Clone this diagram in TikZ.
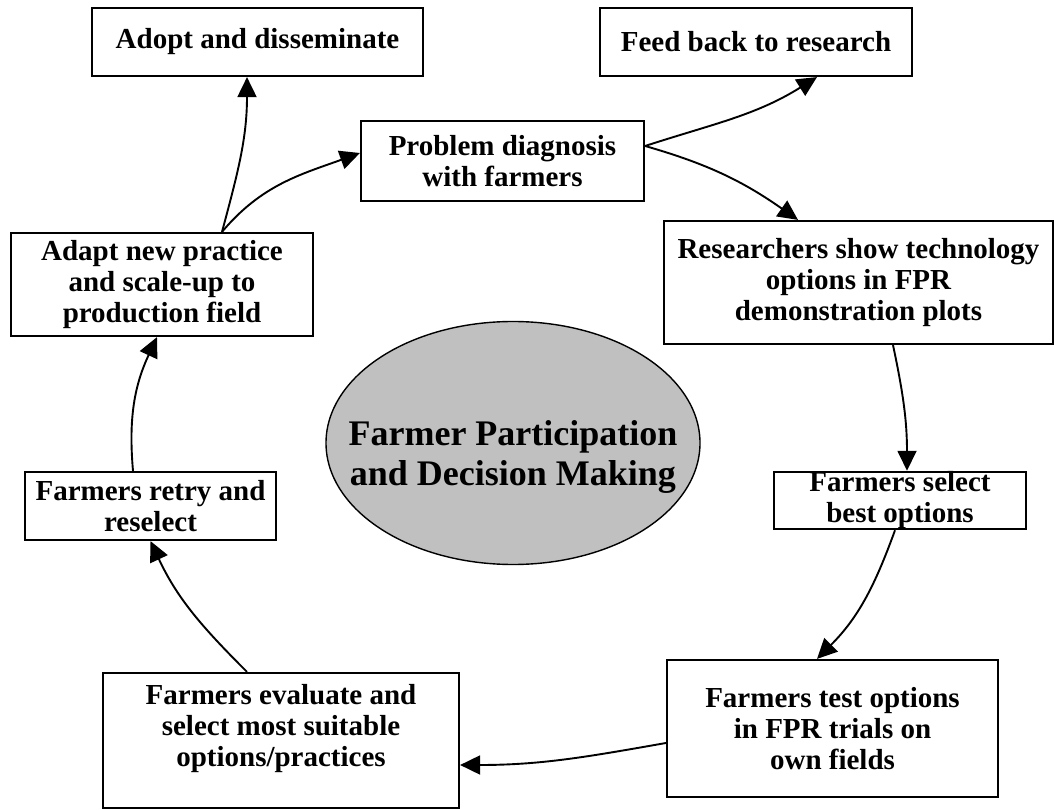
\documentclass[tikz,border=0pt]{standalone}
\usepackage{fontspec}
\setmainfont{Liberation Serif}
\usetikzlibrary{arrows.meta,shapes.geometric}
\definecolor{hubgray}{HTML}{C0C0C0}
\begin{document}
\begin{tikzpicture}[x=1pt,y=1pt,
  box/.style={draw, line width=2.2pt, rectangle, inner sep=0pt, align=center,
    font=\bfseries\fontsize{29}{31}\selectfont},
  hub/.style={draw, line width=1.4pt, ellipse, fill=hubgray, inner sep=0pt,
    minimum width=374pt, minimum height=243pt},
  hubtext/.style={align=center, inner sep=0pt, font=\bfseries\fontsize{36}{40}\selectfont},
  link/.style={line width=1.9pt, -{Triangle[length=20pt,width=19pt]}},
]
\useasboundingbox (0,0) rectangle (1054,809);
\node[box, minimum width=331pt, minimum height=68pt] (adopt) at (257.5,767) {Adopt and disseminate};
\node[box, minimum width=312pt, minimum height=68pt] (feed) at (756,767) {Feed back to research};
\node[box, minimum width=283pt, minimum height=80pt] (problem) at (502.5,648) {Problem diagnosis\\with farmers};
\node[box, minimum width=389pt, minimum height=123pt] (researchers) at (858.5,526.5) {Researchers show technology\\options in FPR\\demonstration plots};
\node[box, minimum width=252pt, minimum height=57pt] (select) at (900,308.5) {Farmers select\\best options};
\node[box, minimum width=331pt, minimum height=137pt] (test) at (832.5,80.5) {Farmers test options\\in FPR trials on\\own fields};
\node[box, minimum width=356pt, minimum height=135pt] (evaluate) at (281,68.5) {Farmers evaluate and\\select most suitable\\options/practices\\\mbox{}};
\node[box, minimum width=251pt, minimum height=68pt] (retry) at (150.5,303) {Farmers retry and\\reselect};
\node[box, minimum width=302pt, minimum height=103pt] (adapt) at (162,524.5) {Adapt new practice\\and scale-up to\\production field};
\node[hub] (hub) at (513,366) {};
\node[hubtext] (hubtxt) at (513,352) {Farmer Participation\\and Decision Making};

\draw[link] ([xshift=60pt]adapt.north) to[out=75,in=-90] ([xshift=-10.5pt]adopt.south);
\draw[link] ([xshift=60pt]adapt.north) to[out=50,in=200] ([yshift=8pt]problem.west);
\draw[link] ([yshift=15pt]problem.east) to[out=18,in=212] ([xshift=61pt]feed.south);
\draw[link] ([yshift=15pt]problem.east) to[out=-16,in=145] ([xshift=-60.5pt]researchers.north);
\draw[link] ([xshift=34.5pt]researchers.south) to[out=-78,in=90] ([xshift=7pt]select.north);
\draw[link] ([xshift=-5pt]select.south) to[out=-110,in=45] ([xshift=-15.5pt]test.north);
\draw[link] ([yshift=-14.5pt]test.west) to[out=190,in=0] ([yshift=-24.5pt]evaluate.east);
\draw[link] ([xshift=-34pt]evaluate.north) to[out=135,in=-65] (retry.south);
\draw[link] ([xshift=-17.5pt]retry.north) to[out=95,in=-115] ([xshift=-5pt]adapt.south);
\end{tikzpicture}
\end{document}
